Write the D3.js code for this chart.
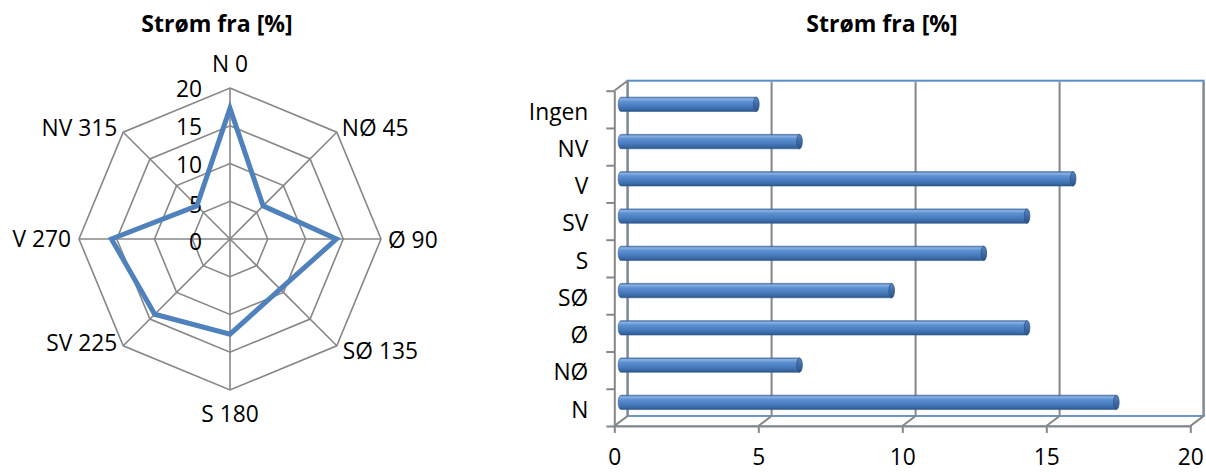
<!DOCTYPE html>
<html><head><meta charset="utf-8">
<script src="https://cdn.jsdelivr.net/npm/d3@7"></script>
<style>
html,body{margin:0;padding:0;background:#fff;}
svg{display:block;font-family:"Open Sans",sans-serif;}
</style></head>
<body>
<svg id="c" width="1206" height="472"></svg>
<script>
// ---- data ----
const title = "Strøm fra [%]";
const radarLabels = ["N 0","NØ 45","Ø 90","SØ 135","S 180","SV 225","V 270","NV 315"];
const radarValues = [17.3, 6.2, 14.1, 9.4, 12.6, 14.1, 15.7, 6.2];
const radarTicks = [0,5,10,15,20];
const barCategories = ["N","NØ","Ø","SØ","S","SV","V","NV","Ingen"];
const barValues = [17.2, 6.2, 14.1, 9.4, 12.6, 14.1, 15.7, 6.2, 4.7];
const barTicks = [0,5,10,15,20];

const svg = d3.select("#c");
const gray = "#878787";
const blue = "#4F81BD";
const FS = 24.5, SX = 0.93;

function label(parent, x, y, text, anchor, opts={}){
  const size = opts.size || FS, sx = opts.sx || SX;
  const t = parent.append("text")
    .attr("transform", `translate(${x},${y}) scale(${sx},1)`)
    .attr("text-anchor", anchor).attr("font-size", size).attr("fill", "#000").text(text);
  if(opts.bold) t.attr("font-weight","bold");
  if(opts.dy) t.attr("dy", opts.dy);
  return t;
}

// ================= RADAR =================
const cx = 230, cy = 239, R = 151;
const r = d3.scaleLinear().domain([0,20]).range([0,R]);
const ang = d3.scalePoint().domain(d3.range(radarLabels.length)).range([0, 2*Math.PI*(radarLabels.length-1)/radarLabels.length]);
const pt = (i,v) => [cx + r(v)*Math.sin(ang(i)), cy - r(v)*Math.cos(ang(i))];
const rg = svg.append("g");

radarTicks.filter(t=>t>0).forEach(t=>{
  rg.append("path")
    .attr("d", d3.line()(radarLabels.map((_,i)=>pt(i,t))) + "Z")
    .attr("fill","none").attr("stroke",gray).attr("stroke-width",1.6);
});
radarLabels.forEach((_,i)=>{
  const p = pt(i,20);
  rg.append("line").attr("x1",cx).attr("y1",cy).attr("x2",p[0]).attr("y2",p[1])
    .attr("stroke",gray).attr("stroke-width",1.6);
});
radarTicks.forEach(t=>{
  label(rg, cx-28, cy - r(t) + (t<10?2.5:0.5), t, "end", {dy:"0.36em"});
});
rg.append("path")
  .attr("d", d3.line()(radarValues.map((v,i)=>pt(i,v))) + "Z")
  .attr("fill","none").attr("stroke",blue).attr("stroke-width",5).attr("stroke-linejoin","miter");

const labOff = [
  {a:"middle", dx:0, dy:-16.5, base:true},
  {a:"start", dx:5, dy:-5},
  {a:"start", dx:7, dy:0},
  {a:"start", dx:6, dy:4},
  {a:"middle", dx:0, dy:32, base:true},
  {a:"end", dx:-6, dy:-4},
  {a:"end", dx:-8, dy:-1},
  {a:"end", dx:-6, dy:-5}
];
radarLabels.forEach((l,i)=>{
  const p = pt(i,20), o = labOff[i];
  label(rg, p[0]+o.dx, p[1]+o.dy, l, o.a, o.base ? {} : {dy:"0.36em"});
});
label(svg, 217, 32, title, "middle", {size:24, sx:0.96, bold:true});

// ================= BAR (3D) =================
const x0 = 614.3, x1 = 1190.3, yTop = 90.7, yBot = 426;
const ddx = 13.3, ddy = -10;
const x = d3.scaleLinear().domain([0,20]).range([x0,x1]);
const y = d3.scaleBand().domain(barCategories.slice().reverse()).range([yTop,yBot]);
const bg = svg.append("g");

bg.append("rect").attr("x",x0+ddx).attr("y",yTop+ddy).attr("width",x1-x0).attr("height",yBot-yTop)
  .attr("fill","none").attr("stroke","#5B8CCB").attr("stroke-width",2);
bg.append("path").attr("d",`M${x0},${yBot}L${x1},${yBot}L${x1+ddx},${yBot+ddy}L${x0+ddx},${yBot+ddy}Z`)
  .attr("fill","none").attr("stroke","#6F9AD0").attr("stroke-width",1.5);

barTicks.forEach(t=>{
  const xb = x(t)+ddx;
  if(t>0) bg.append("line").attr("x1",xb).attr("x2",xb).attr("y1",yTop+ddy+1).attr("y2",yBot+ddy)
    .attr("stroke",gray).attr("stroke-width",2);
  bg.append("line").attr("x1",x(t)).attr("y1",yBot).attr("x2",xb).attr("y2",yBot+ddy)
    .attr("stroke",gray).attr("stroke-width",2);
});
bg.append("line").attr("x1",x0+ddx).attr("x2",x0+ddx).attr("y1",yTop+ddy).attr("y2",yBot+ddy)
  .attr("stroke",gray).attr("stroke-width",2);
bg.append("line").attr("x1",x0).attr("y1",yTop).attr("x2",x0+ddx).attr("y2",yTop+ddy)
  .attr("stroke",gray).attr("stroke-width",2);

const defs = svg.append("defs");
const grad = defs.append("linearGradient").attr("id","cyl").attr("x1",0).attr("y1",0).attr("x2",0).attr("y2",1);
[[0,"#3E6BA5"],[0.12,"#8CB2E4"],[0.3,"#5E91D2"],[0.6,"#4A7EC0"],[0.85,"#3A6AA6"],[1,"#2C5282"]]
  .forEach(([o,c])=>grad.append("stop").attr("offset",o).attr("stop-color",c));
const capGrad = defs.append("linearGradient").attr("id","cap").attr("x1",0).attr("y1",0).attr("x2",0).attr("y2",1);
[[0,"#5A86C0"],[0.5,"#3E6BA8"],[1,"#2B5183"]]
  .forEach(([o,c])=>capGrad.append("stop").attr("offset",o).attr("stop-color",c));

const bh = 14.4, rx = 2.8;
const bars = bg.append("g").attr("transform",`translate(${ddx/2},${ddy/2})`);
barCategories.forEach((c,i)=>{
  const v = barValues[i];
  const yc = y(c) + y.bandwidth()/2;
  const xs = x(0), xe = x(v);
  const g = bars.append("g");
  g.append("path")
    .attr("d",`M${xs},${yc-bh/2}L${xe},${yc-bh/2}L${xe},${yc+bh/2}L${xs},${yc+bh/2}A${rx},${bh/2} 0 0 1 ${xs},${yc-bh/2}Z`)
    .attr("fill","url(#cyl)").attr("stroke","#34609A").attr("stroke-width",0.6);
  g.append("ellipse").attr("cx",xe).attr("cy",yc).attr("rx",rx).attr("ry",bh/2)
    .attr("fill","url(#cap)").attr("stroke","#2E5588").attr("stroke-width",0.8);
});

// front x axis
const xAxis = d3.axisBottom(x).tickValues(barTicks).tickSize(7).tickPadding(15).tickSizeOuter(0);
const xa = bg.append("g").attr("transform",`translate(0,${yBot})`).call(xAxis);
xa.select(".domain").attr("stroke",gray).attr("stroke-width",2);
xa.selectAll(".tick line").attr("stroke",gray).attr("stroke-width",2);
xa.selectAll("text").attr("font-size",FS).attr("font-family","Open Sans").attr("fill","#000")
  .attr("transform",`scale(${SX},1)`);

// front y axis (boundary ticks)
const yi = d3.scaleLinear().domain([0,barCategories.length]).range([yBot,yTop]);
const yTickAxis = d3.axisLeft(yi).ticks(barCategories.length).tickSize(8).tickFormat("").tickSizeOuter(0);
const ya = bg.append("g").attr("transform",`translate(${x0},0)`).call(yTickAxis);
ya.select(".domain").attr("stroke",gray).attr("stroke-width",2);
ya.selectAll(".tick line").attr("stroke",gray).attr("stroke-width",2);

// category labels
const pad = 26;
const yLab = d3.axisLeft(y).tickSize(0).tickPadding(pad);
const yl = bg.append("g").attr("transform",`translate(${x0},0)`).call(yLab);
yl.select(".domain").remove();
yl.selectAll("text").attr("font-size",FS).attr("font-family","Open Sans").attr("fill","#000")
  .attr("x", -pad/SX).attr("dy","0.42em").attr("transform",`scale(${SX},1)`);

label(svg, 882, 32, title, "middle", {size:24, sx:0.96, bold:true});
</script>
</body></html>
